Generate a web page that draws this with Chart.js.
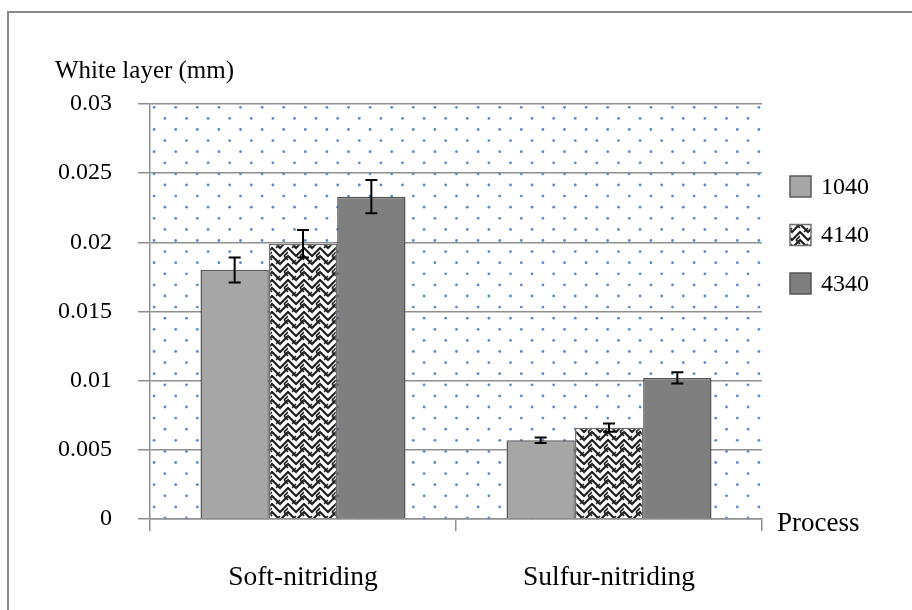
<!DOCTYPE html>
<html>
<head>
<meta charset="utf-8">
<script src="https://cdn.jsdelivr.net/npm/chart.js@4.4.1/dist/chart.umd.min.js"></script>
<style>
  html, body { margin: 0; padding: 0; background: #fff; }
  canvas { display: block; }
</style>
</head>
<body>
<canvas id="chart" width="912" height="610"></canvas>
<script>
// data
const categories = ['Soft-nitriding', 'Sulfur-nitriding'];
const seriesNames = ['1040', '4140', '4340'];
const values1040 = [0.0180, 0.0057];
const values4140 = [0.0199, 0.0066];
const values4340 = [0.0233, 0.0102];
const errors1040 = [0.0009, 0.0002];
const errors4140 = [0.0010, 0.0003];
const errors4340 = [0.0012, 0.0004];
const yTickLabels = ['0', '0.005', '0.01', '0.015', '0.02', '0.025', '0.03'];

const SERIF = "'Liberation Serif', 'Times New Roman', serif";
const GRID = '#8f8f8f';

// black/white chevron weave for 4140
function weavePattern() {
    const c = document.createElement('canvas');
    c.width = c.height = 16;
    const g = c.getContext('2d');
    g.fillStyle = '#fff';
    g.fillRect(0, 0, 16, 16);
    g.strokeStyle = '#1e1e1e';
    g.lineWidth = 2.2;
    for (let dy = -16; dy <= 16; dy += 8) {
        g.beginPath();
        g.moveTo(-2, dy - 2);
        g.lineTo(8, dy + 8);
        g.lineTo(18, dy - 2);
        g.stroke();
    }
    // short cross strokes to break the chevrons into a weave
    g.lineWidth = 1.6;
    g.beginPath();
    g.moveTo(4, 8); g.lineTo(8, 4);
    g.moveTo(12, 0); g.lineTo(16, 4);
    g.moveTo(0, 4); g.lineTo(-4, 0);
    g.moveTo(12, 16); g.lineTo(16, 12);
    g.stroke();
    return g.createPattern(c, 'repeat');
}

// dotted plot background, drawn under the grid
const dottedBackground = {
    id: 'dottedBackground',
    beforeDraw(chart) {
        const { ctx, chartArea: a } = chart;
        ctx.save();
        ctx.fillStyle = '#fff';
        ctx.fillRect(0, 0, chart.width, chart.height);
        ctx.fillStyle = 'rgba(70, 125, 200, 0.9)';
        let row = 0;
        for (let y = a.top + 3.3; y < a.bottom; y += 11.1, row++) {
            const start = a.left + (row % 2 === 0 ? 4.1 : 14.9);
            for (let x = start; x < a.right; x += 21.6) {
                ctx.beginPath();
                ctx.arc(x, y, 1.4, 0, Math.PI * 2);
                ctx.fill();
            }
        }
        ctx.restore();
    }
};

// error bars from the error arrays
const errorBars = {
    id: 'errorBars',
    afterDatasetsDraw(chart) {
        const { ctx } = chart;
        const yScale = chart.scales.y;
        const errs = [errors1040, errors4140, errors4340];
        ctx.save();
        ctx.strokeStyle = '#000';
        ctx.lineWidth = 2;
        chart.data.datasets.forEach((ds, di) => {
            chart.getDatasetMeta(di).data.forEach((bar, i) => {
                const v = ds.data[i];
                const e = errs[di][i];
                const yt = yScale.getPixelForValue(v + e);
                const yb = yScale.getPixelForValue(v - e);
                const x = bar.x;
                ctx.beginPath();
                ctx.moveTo(x, yt); ctx.lineTo(x, yb);
                ctx.moveTo(x - 6, yt); ctx.lineTo(x + 6, yt);
                ctx.moveTo(x - 6, yb); ctx.lineTo(x + 6, yb);
                ctx.stroke();
            });
        });
        ctx.restore();
    }
};

// frame, axis titles and legend
const decorations = {
    id: 'decorations',
    afterDraw(chart) {
        const { ctx } = chart;
        ctx.save();
        ctx.strokeStyle = '#8a8a8a';
        ctx.lineWidth = 2;
        ctx.beginPath();
        ctx.moveTo(8, chart.height);
        ctx.lineTo(8, 12);
        ctx.lineTo(chart.width, 12);
        ctx.stroke();

        ctx.fillStyle = '#000';
        ctx.textBaseline = 'alphabetic';
        ctx.textAlign = 'left';
        ctx.font = '25px ' + SERIF;
        ctx.fillText('White layer (mm)', 55, 78);
        ctx.font = '27px ' + SERIF;
        ctx.fillText('Process', 777, 531);

        const rowsY = [186.5, 235, 283.5];
        chart.data.datasets.forEach((ds, i) => {
            ctx.fillStyle = ds.backgroundColor;
            ctx.fillRect(790, rowsY[i] - 10.5, 21, 21);
            ctx.strokeStyle = ds.borderColor;
            ctx.lineWidth = 1.5;
            ctx.strokeRect(790, rowsY[i] - 10.5, 21, 21);
            ctx.fillStyle = '#000';
            ctx.font = '24px ' + SERIF;
            ctx.textBaseline = 'middle';
            ctx.fillText(ds.label, 821, rowsY[i] + 1);
        });
        ctx.restore();
    }
};

const ctx = document.getElementById('chart').getContext('2d');
new Chart(ctx, {
    type: 'bar',
    data: {
        labels: categories,
        datasets: [
            { label: seriesNames[0], data: values1040, backgroundColor: '#a6a6a6', borderColor: '#5a5a5a', borderWidth: 1.5 },
            { label: seriesNames[1], data: values4140, backgroundColor: weavePattern(), borderColor: '#707070', borderWidth: 1.5 },
            { label: seriesNames[2], data: values4340, backgroundColor: '#7f7f7f', borderColor: '#555555', borderWidth: 1.5 }
        ]
    },
    options: {
        responsive: false,
        animation: false,
        layout: { padding: { left: 0, top: 104, right: 150, bottom: 0 } },
        datasets: { bar: { categoryPercentage: 0.67, barPercentage: 1 } },
        plugins: {
            legend: { display: false },
            tooltip: { enabled: false },
            title: { display: false }
        },
        scales: {
            x: {
                offset: true,
                grid: { offset: true, drawOnChartArea: false, drawTicks: true, tickLength: 12, color: GRID, lineWidth: 1.5 },
                border: { display: true, color: GRID, width: 1.5 },
                ticks: { color: '#000', font: { family: SERIF, size: 27.5 }, padding: 30, maxRotation: 0 },
                afterFit: s => { s.height = 91; }
            },
            y: {
                min: 0,
                max: 0.03,
                grid: { color: GRID, lineWidth: 1.5, tickLength: 12 },
                border: { display: true, color: GRID, width: 1.5 },
                ticks: {
                    stepSize: 0.005,
                    padding: 26,
                    color: '#000',
                    font: { family: SERIF, size: 24 },
                    callback: (v, i) => yTickLabels[i]
                },
                afterFit: s => { s.width = 150; }
            }
        }
    },
    plugins: [dottedBackground, errorBars, decorations]
});
</script>
</body>
</html>
